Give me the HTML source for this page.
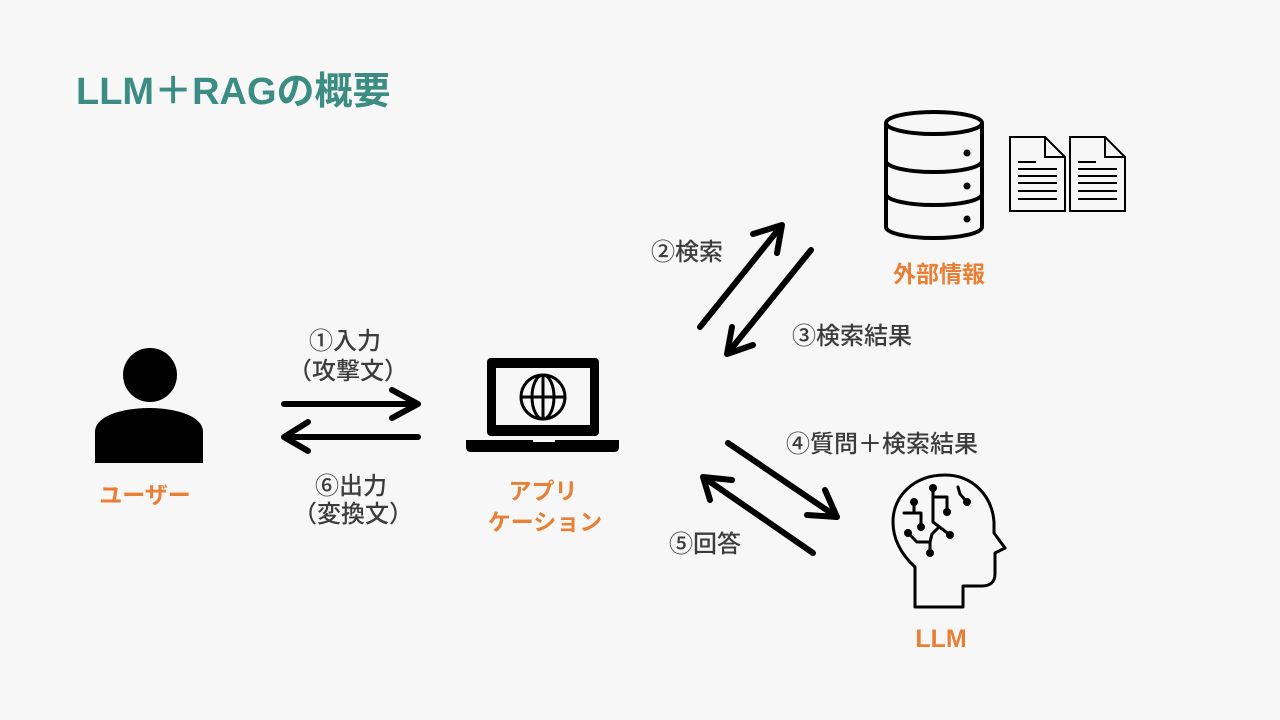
<!DOCTYPE html>
<html><head><meta charset="utf-8"><style>
html,body{margin:0;padding:0;background:#f7f7f7;}
svg{display:block;}
text{font-family:"Liberation Sans","Noto Sans CJK JP",sans-serif;}
.g{fill:#3c3c3c;font-size:24px;font-weight:500;text-anchor:middle;}
.o{fill:#e97f35;font-size:23px;font-weight:bold;text-anchor:middle;}
.ar{fill:none;stroke:#000;stroke-width:6;stroke-linecap:round;stroke-linejoin:round;}
</style></head><body>
<svg width="1280" height="720" viewBox="0 0 1280 720" xmlns="http://www.w3.org/2000/svg">
<rect width="1280" height="720" fill="#f7f7f7"/>
<text x="76" y="104" style="font-size:38px;font-weight:bold;fill:#3b8c82;">LLM＋RAGの概要</text>

<!-- user -->
<circle cx="150" cy="375" r="27" fill="#000"/>
<path d="M95 463 V432 C95 415 125 408 149 408 C173 408 203 415 203 432 V463 Z" fill="#000"/>
<text class="o" x="145" y="503">ユーザー</text>

<!-- arrows user/app -->
<path class="ar" d="M284 404 H416 M392 390 L418 404 L392 418"/>
<path class="ar" d="M418 437 H286 M308 422 L284 437 L308 451"/>
<text class="g" x="345" y="349">①入力</text>
<text class="g" x="348" y="379">（攻撃文）</text>
<text class="g" x="351" y="494">⑥出力</text>
<text class="g" x="353" y="522">（変換文）</text>

<!-- laptop -->
<rect x="487" y="358" width="112" height="78" rx="4" fill="#000"/>
<rect x="496" y="368" width="94" height="57" fill="#f7f7f7"/>
<path d="M466 440 H619 V447 Q619 452 614 452 H471 Q466 452 466 447 Z" fill="#000"/>
<rect x="533" y="440" width="22" height="2" fill="#f7f7f7"/>
<g fill="none" stroke="#000" stroke-width="3">
<circle cx="543" cy="397" r="22"/>
<ellipse cx="543" cy="397" rx="11" ry="22"/>
<line x1="543" y1="375" x2="543" y2="419"/>
<line x1="521" y1="397" x2="565" y2="397"/>
</g>
<text class="o" x="543" y="499">アプリ</text>
<text class="o" x="545" y="530">ケーション</text>

<!-- database -->
<g fill="none" stroke="#000" stroke-width="4">
<ellipse cx="934" cy="123" rx="48" ry="11"/>
<path d="M886 123 V227 A48 11 0 0 0 982 227 V123"/>
<path d="M886 161 A48 11 0 0 0 982 161"/>
<path d="M886 194 A48 11 0 0 0 982 194"/>
</g>
<circle cx="967" cy="153" r="3.5" fill="#000"/>
<circle cx="967" cy="186" r="3.5" fill="#000"/>
<circle cx="967" cy="219" r="3.5" fill="#000"/>

<!-- documents -->
<g fill="none" stroke="#000" stroke-width="2">
<path d="M1010 137 H1045 L1065 157 V211 H1010 Z M1045 137 V157 H1065"/>
<path d="M1018 162 H1036 M1018 169 H1057 M1018 176 H1057 M1018 183 H1057 M1018 191 H1057 M1018 199 H1057"/>
<path d="M1070 137 H1105 L1125 157 V211 H1070 Z M1105 137 V157 H1125"/>
<path d="M1078 162 H1096 M1078 169 H1117 M1078 176 H1117 M1078 183 H1117 M1078 191 H1117 M1078 199 H1117"/>
</g>
<text class="o" x="939" y="282">外部情報</text>

<!-- arrows app/db -->
<path class="ar" d="M700 327 L782 225 M753 234 L782 225 L777 253"/>
<path class="ar" d="M811 250 L727 354 M753 345 L727 354 L732 327"/>
<text class="g" x="687" y="260">②検索</text>
<text class="g" x="852" y="344">③検索結果</text>

<!-- arrows app/llm -->
<path class="ar" d="M728 443 L837 517 M807 515 L837 517 L825 490"/>
<path class="ar" d="M813 553 L703 477 M732 480 L703 477 L710 500"/>
<text class="g" x="882" y="452">④質問＋検索結果</text>
<text class="g" x="705" y="552">⑤回答</text>

<!-- head -->
<path d="M915 607 V567 C902 555 893 540 893 522 C893 495 915 475 945 475 C972 475 992 495 994 522 L994 533 L1005 548 L995 553 L995 574 C995 582 990 586 982 586 L963 586 V607 Z" fill="none" stroke="#000" stroke-width="3" stroke-linejoin="round"/>
<g fill="none" stroke="#000" stroke-width="3" stroke-linecap="round" stroke-linejoin="round">
<path d="M933 488 V522 L950 535"/>
<path d="M933 497 H947 V512"/>
<path d="M958 487 L960 494 L967 502"/>
<path d="M914 502 V513 M904 513 H921 V527"/>
<path d="M908 533 L917 542 H930 V553 M930 542 L932 534 L939 527"/>
</g>
<g fill="#000">
<circle cx="933" cy="488" r="4"/><circle cx="950" cy="535" r="4"/>
<circle cx="947" cy="512" r="4"/><circle cx="967" cy="502" r="4"/>
<circle cx="914" cy="502" r="4"/><circle cx="921" cy="527" r="4"/>
<circle cx="908" cy="533" r="4"/><circle cx="930" cy="553" r="4"/>
</g>
<text class="o" x="941" y="647" style="font-size:25px">LLM</text>
</svg>
</body></html>
